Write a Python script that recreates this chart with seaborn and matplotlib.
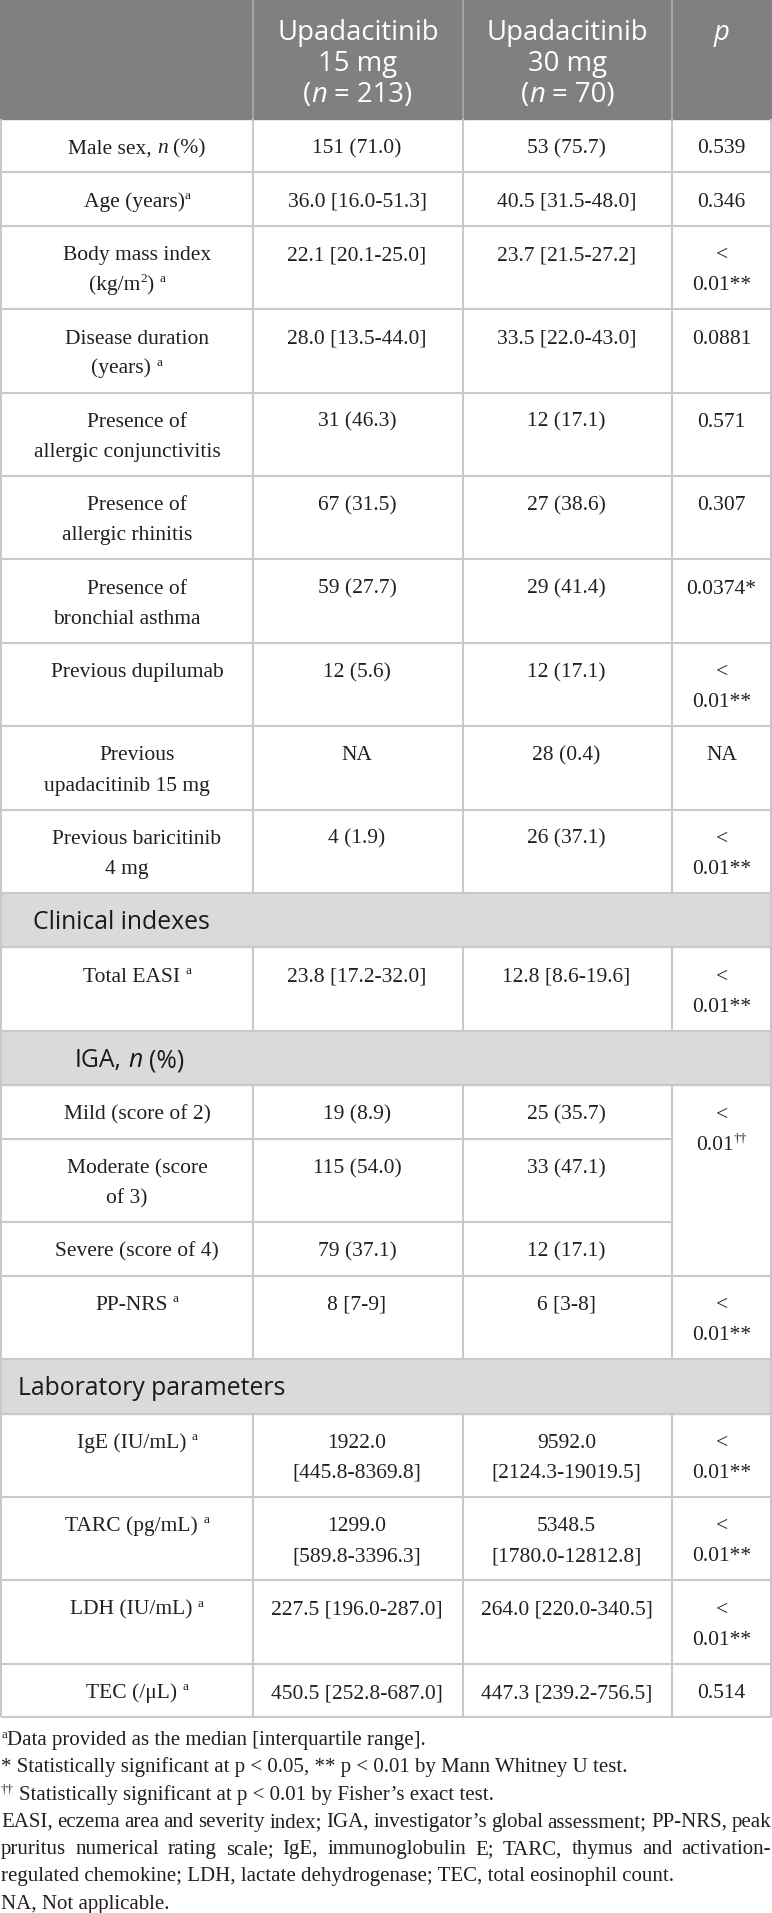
import re
import matplotlib
matplotlib.use('Agg')
import matplotlib.pyplot as plt
from matplotlib.font_manager import FontProperties
import seaborn as sns

sns.set_style('white')
plt.rcParams['font.family'] = ['Liberation Serif', 'DejaVu Serif']

# ---------------------------------------------------------------
# table content  ("|" = line break, _x_ = italic, ^x^ = superscript)
# ---------------------------------------------------------------
col_headers = ["Upadacitinib|15 mg|(_n_ = 213)",
               "Upadacitinib|30 mg|(_n_ = 70)",
               "_p_"]

row_labels = ["Male sex, _n_ (%)",
              "Age (years)^a^",
              "Body mass index|(kg/m^2^) ^a^",
              "Disease duration|(years) ^a^",
              "Presence of|allergic conjunctivitis",
              "Presence of|allergic rhinitis",
              "Presence of|bronchial asthma",
              "Previous dupilumab",
              "Previous|upadacitinib 15 mg",
              "Previous baricitinib|4 mg",
              "Total EASI ^a^",
              "Mild (score of 2)",
              "Moderate (score|of 3)",
              "Severe (score of 4)",
              "PP-NRS ^a^",
              "IgE (IU/mL) ^a^",
              "TARC (pg/mL) ^a^",
              "LDH (IU/mL) ^a^",
              "TEC (/\u03bcL) ^a^"]

upa15 = ["151 (71.0)", "36.0 [16.0-51.3]", "22.1 [20.1-25.0]", "28.0 [13.5-44.0]",
         "31 (46.3)", "67 (31.5)", "59 (27.7)", "12 (5.6)", "NA", "4 (1.9)",
         "23.8 [17.2-32.0]", "19 (8.9)", "115 (54.0)", "79 (37.1)", "8 [7-9]",
         "1922.0|[445.8-8369.8]", "1299.0|[589.8-3396.3]",
         "227.5 [196.0-287.0]", "450.5 [252.8-687.0]"]

upa30 = ["53 (75.7)", "40.5 [31.5-48.0]", "23.7 [21.5-27.2]", "33.5 [22.0-43.0]",
         "12 (17.1)", "27 (38.6)", "29 (41.4)", "12 (17.1)", "28 (0.4)", "26 (37.1)",
         "12.8 [8.6-19.6]", "25 (35.7)", "33 (47.1)", "12 (17.1)", "6 [3-8]",
         "9592.0|[2124.3-19019.5]", "5348.5|[1780.0-12812.8]",
         "264.0 [220.0-340.5]", "447.3 [239.2-756.5]"]

p_values = ["0.539", "0.346", "<|0.01**", "0.0881", "0.571", "0.307", "0.0374*",
            "<|0.01**", "NA", "<|0.01**", "<|0.01**",
            "<|0.01^\u2020\u2020^", None, None,
            "<|0.01**", "<|0.01**", "<|0.01**", "<|0.01**", "0.514"]
p_span = {11: 3}   # IGA p value spans Mild / Moderate / Severe

# section bands placed before the given row index
sections = {10: "Clinical indexes", 11: "IGA, _n_ (%)", 15: "Laboratory parameters"}
section_x = {10: 33, 11: 75, 15: 18}

footnotes = ["^a^Data provided as the median [interquartile range].",
             "* Statistically significant at p < 0.05, ** p < 0.01 by Mann Whitney U test.",
             "^\u2020\u2020^ Statistically significant at p < 0.01 by Fisher\u2019s exact test.",
             "EASI, eczema area and severity index; IGA, investigator\u2019s global assessment; PP-NRS, peak",
             "pruritus numerical rating scale; IgE, immunoglobulin E; TARC, thymus and activation-",
             "regulated chemokine; LDH, lactate dehydrogenase; TEC, total eosinophil count.",
             "NA, Not applicable."]
justified = [3, 4]

# ---------------------------------------------------------------
# layout / style
# ---------------------------------------------------------------
W, H = 772, 1913
col_x = [1, 253, 463, 672, 771]
header_h = 119
band_h = 54.5
row_h1, line_gap = 53.4, 30
SERIF, SANS = 'Liberation Serif', 'Open Sans'
body_size, note_size = 15.5, 15.0
head_size, band_size = 19.8, 17.8
ink = '#231f20'
grid = '#c9c9c9'
head_bg = '#808080'
band_bg = '#dadada'
lw = 1.5

fig = plt.figure(figsize=(W / 100, H / 100), dpi=100)
ax = fig.add_axes([0, 0, 1, 1])
ax.set_xlim(0, W)
ax.set_ylim(H, 0)
ax.axis('off')
renderer = fig.canvas.get_renderer()


def parse(s):
    runs = []
    for tok in re.split(r'(_[^_]+_|\^[^^]+\^)', s):
        if not tok:
            continue
        if len(tok) > 2 and tok[0] == '_' and tok[-1] == '_':
            runs.append((tok[1:-1], 'it'))
        elif len(tok) > 2 and tok[0] == '^' and tok[-1] == '^':
            runs.append((tok[1:-1], 'sup'))
        else:
            runs.append((tok, 'rm'))
    return runs


def text_w(s, prop):
    if not s:
        return 0.0
    a = renderer.get_text_width_height_descent('x' + s + 'x', prop, ismath=False)[0]
    b = renderer.get_text_width_height_descent('xx', prop, ismath=False)[0]
    return a - b


def draw_rich(x, y, s, family, size, color, ha='center'):
    pieces = []
    for txt, kind in parse(s):
        sz = size * 0.62 if kind == 'sup' else size
        prop = FontProperties(family=family, size=sz,
                              style='italic' if kind == 'it' else 'normal')
        pieces.append((txt, prop, kind, text_w(txt, prop)))
    total = sum(p[3] for p in pieces)
    x0 = x - total / 2 if ha == 'center' else x
    rise = size * 100 / 72 * 0.36
    for txt, prop, kind, w in pieces:
        core = txt.strip()
        lead = text_w(txt[:len(txt) - len(txt.lstrip())], prop)
        if core:
            ax.text(x0 + lead, y - rise if kind == 'sup' else y, core,
                    fontproperties=prop, color=color, ha='left', va='baseline')
        x0 += w


def draw_cell(xc, top, s, first_shift=0):
    for i, line in enumerate(s.split('|')):
        yb = top + 27 + line_gap * i + 7.3
        draw_rich(xc + (first_shift if i == 0 else 0), yb, line, SERIF, body_size, ink)


def hline(y, x0=col_x[0], x1=col_x[-1]):
    ax.plot([x0, x1], [y, y], color=grid, lw=lw, solid_capstyle='butt', zorder=3)


def vline(x, y0, y1, color=grid):
    ax.plot([x, x], [y0, y1], color=color, lw=lw, solid_capstyle='butt', zorder=3)


# header
ax.add_patch(plt.Rectangle((0, 0), W, header_h, color=head_bg, zorder=1))
for x in col_x[1:-1]:
    vline(x, 0, header_h, color='#a3a3a3')
for j, head in enumerate(col_headers):
    xc = (col_x[j + 1] + col_x[j + 2]) / 2
    for i, line in enumerate(head.split('|')):
        draw_rich(xc, 31 + 31 * i + 9, line, SANS, head_size, 'white')

# body rows
y = header_h
span_end = -1
for r, label in enumerate(row_labels):
    if r in sections:
        ax.add_patch(plt.Rectangle((0, y), W, band_h, color=band_bg, zorder=1))
        draw_rich(section_x[r], y + band_h / 2 + 9, sections[r], SANS, band_size, '#1a1a1a', ha='left')
        y += band_h
        hline(y)
    cells = [label, upa15[r], upa30[r]]
    if p_values[r] is not None and r not in p_span:
        cells.append(p_values[r])
    n = max(len(c.split('|')) for c in cells)
    h = row_h1 + line_gap * (n - 1)

    draw_cell((col_x[0] + col_x[1]) / 2, y, label, first_shift=10)
    draw_cell((col_x[1] + col_x[2]) / 2 - 1, y, upa15[r])
    draw_cell((col_x[2] + col_x[3]) / 2 - 1, y, upa30[r])
    if p_values[r] is not None:
        draw_cell((col_x[3] + col_x[4]) / 2, y, p_values[r])
        if r in p_span:
            span_end = r + p_span[r] - 1

    for x in col_x[1:-1]:
        vline(x, y, y + h)
    y += h
    if r < span_end:
        hline(y, x1=col_x[3])
    else:
        hline(y)

table_bottom = y
vline(col_x[0], header_h, table_bottom)
vline(col_x[-1], header_h, table_bottom)

# footnotes
for k, note in enumerate(footnotes):
    yb = 1738 + 27.3 * k + 7
    if k in justified:
        prop = FontProperties(family=SERIF, size=note_size)
        words = note.split(' ')
        widths = [text_w(w, prop) for w in words]
        gap = (W - 2 - sum(widths)) / (len(words) - 1)
        x0 = 1
        for w, wd in zip(words, widths):
            ax.text(x0, yb, w, fontproperties=prop, color=ink, ha='left', va='baseline')
            x0 += wd + gap
    else:
        draw_rich(1, yb, note, SERIF, note_size, ink, ha='left')

fig.savefig('out.png', dpi=100)
